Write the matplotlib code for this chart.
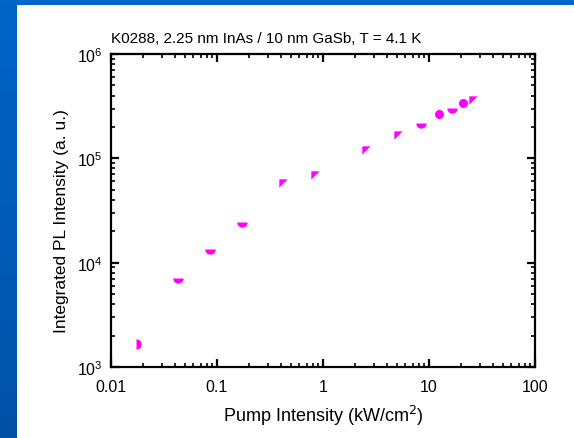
import numpy as np
import matplotlib
matplotlib.use('Agg')
import matplotlib.pyplot as plt
from matplotlib.ticker import LogLocator, NullFormatter

plt.rcParams['font.family'] = ['Liberation Sans', 'DejaVu Sans']

# pump intensity (kW/cm^2) and integrated PL intensity (a.u.)
pump = [0.0172, 0.0429, 0.0853, 0.172, 0.422, 0.845, 2.53, 5.07, 8.36, 12.4, 16.6, 20.8, 25.8]
pl = [1.66e3, 7.13e3, 1.35e4, 2.44e4, 5.81e4, 6.98e4, 1.19e5, 1.69e5, 2.17e5, 2.68e5, 3.06e5, 3.37e5, 3.65e5]
shape = ['right', 'bottom', 'bottom', 'bottom', 'tri', 'tri', 'tri', 'tri',
         'bottom', 'circle', 'bottom', 'circle', 'tri']

title = 'K0288, 2.25 nm InAs / 10 nm GaSb, T = 4.1 K'
magenta = '#FF00FF'

fig = plt.figure(figsize=(5.74, 4.39), dpi=100)

# blue slide frame
bg = fig.add_axes([0, 0, 1, 1], zorder=-1)
bg.set_axis_off()
bg.set_xlim(0, 574)
bg.set_ylim(439, 0)
grad = np.linspace(0, 1, 100).reshape(-1, 1)
cmap = matplotlib.colors.LinearSegmentedColormap.from_list('b', ['#0065C8', '#0052A6'])
bg.imshow(grad, cmap=cmap, extent=[0, 17, 439, 0], aspect='auto')
bg.add_patch(plt.Rectangle((0, 0), 574, 6, color='#0065C8', lw=0))

ax = fig.add_axes([111 / 574, 1 - 368 / 439, 424 / 574, 313 / 439])
tri = [(-1, 1), (1, 1), (-1, -1), (-1, 1)]
for x, y, s in zip(pump, pl, shape):
    if s == 'circle':
        ax.plot(x, y, 'o', color=magenta, ms=6.5, mec='none')
    elif s == 'tri':
        ax.plot(x, y, marker=tri, color=magenta, ms=6, mec='none', ls='none')
    else:
        ax.plot(x, y, 'o', color=magenta, ms=7.5, mec='none', fillstyle=s,
                markerfacecoloralt='none')

ax.set_xscale('log')
ax.set_yscale('log')
ax.set_xlim(0.01, 100)
ax.set_ylim(1e3, 1e6)
ax.set_xticks([0.01, 0.1, 1, 10, 100])
ax.set_xticklabels(['0.01', '0.1', '1', '10', '100'])
ax.xaxis.set_minor_locator(LogLocator(base=10, subs=np.arange(2, 10)))
ax.yaxis.set_minor_locator(LogLocator(base=10, subs=np.arange(2, 10)))
ax.xaxis.set_minor_formatter(NullFormatter())
ax.yaxis.set_minor_formatter(NullFormatter())

for sp in ax.spines.values():
    sp.set_linewidth(1.6)
ax.tick_params(which='major', direction='in', length=6, width=1.6,
               top=True, right=True, labelsize=11.5, pad=6)
ax.tick_params(axis='x', which='major', pad=9)
ax.tick_params(which='minor', direction='in', length=3, width=1.2,
               top=True, right=True)

ax.set_xlabel('Pump Intensity (kW/cm$^2$)', fontsize=13, labelpad=6)
ax.set_ylabel('Integrated PL Intensity (a. u.)', fontsize=12.5)
ax.yaxis.set_label_coords(-0.10, 0.47)
ax.set_title(title, fontsize=11, loc='left', pad=9)

fig.savefig('out.png', dpi=100)
